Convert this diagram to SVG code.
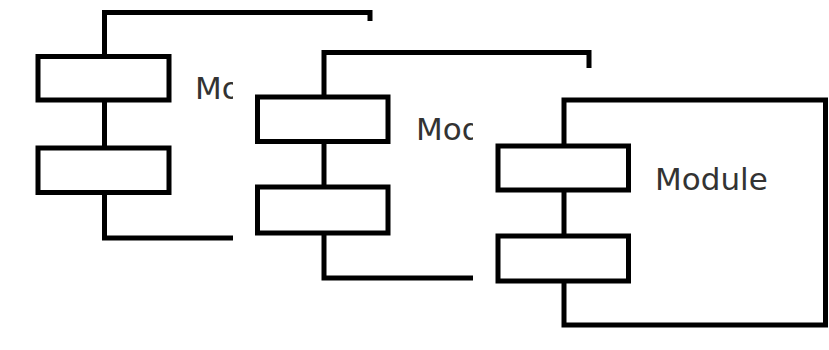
<svg xmlns="http://www.w3.org/2000/svg" width="829" height="350" viewBox="0 0 829 350">
  <style>
    .ln { fill: none; stroke: #000; stroke-width: 5; stroke-linejoin: miter; stroke-linecap: butt; }
    .box { fill: #fff; stroke: #000; stroke-width: 5; }
    .lbl { font-family: "DejaVu Sans", Verdana, sans-serif; font-size: 31px; fill: #333; }
  </style>
  <defs>
    <clipPath id="clip1"><rect x="0" y="0" width="233" height="350"/></clipPath>
    <clipPath id="clip2"><rect x="0" y="0" width="473" height="350"/></clipPath>
  </defs>
  <rect x="0" y="0" width="829" height="350" fill="#fff"/>

  <g id="component1">
    <path class="ln" d="M104.5,56.5 V12.5 H370 V21"/>
    <path class="ln" d="M104.5,100 V148"/>
    <path class="ln" d="M104.5,192.5 V238 H233"/>
    <rect class="box" x="38" y="56.5" width="131" height="43.5"/>
    <rect class="box" x="38" y="148" width="131" height="44.5"/>
    <text class="lbl" x="195" y="99" clip-path="url(#clip1)">Module</text>
  </g>

  <g id="component2">
    <path class="ln" d="M324,97 V52.5 H589 V68"/>
    <path class="ln" d="M324,141.5 V187"/>
    <path class="ln" d="M324,233 V278 H473"/>
    <rect class="box" x="257.5" y="97" width="130.5" height="44.5"/>
    <rect class="box" x="257.5" y="187" width="130.5" height="46"/>
    <text class="lbl" x="416" y="140" clip-path="url(#clip2)">Module</text>
  </g>

  <g id="component3">
    <rect class="box" x="564" y="100" width="261.5" height="225"/>
    <rect class="box" x="498" y="146" width="130.5" height="44"/>
    <rect class="box" x="498" y="236" width="130.5" height="45"/>
    <text class="lbl" x="655" y="190">Module</text>
  </g>
</svg>
